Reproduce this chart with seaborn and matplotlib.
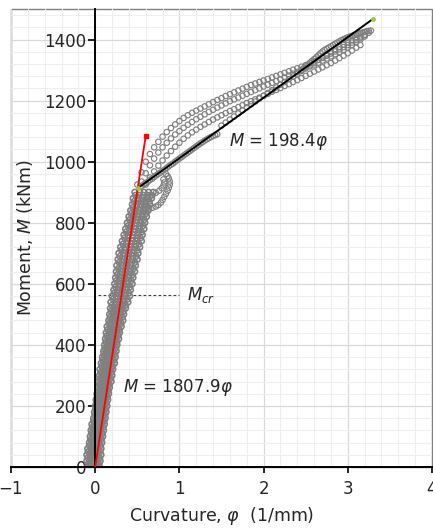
import matplotlib
matplotlib.use("Agg")
import matplotlib.pyplot as plt
import numpy as np
import pandas as pd
import seaborn as sns
from matplotlib.ticker import MultipleLocator
from matplotlib.patches import Rectangle

sns.set_theme(style="white")
plt.rcParams["font.family"] = ["DejaVu Sans"]
plt.rcParams["mathtext.fontset"] = "dejavusans"

# ---------------------------------------------------------------------------
# Measured moment-curvature response (moment in kNm)
# Pre-yield band: several loading/unloading passes read at fixed moment levels
# ---------------------------------------------------------------------------
m_lo_a = [0, 20, 40, 60, 80, 100, 120, 140, 160, 180, 200, 220, 240, 260, 280,
          300, 320, 340, 360, 380, 400, 420, 440, 460, 480, 500, 520, 540, 560,
          580, 600, 620, 640, 660, 680, 700, 720, 740, 760, 780, 800, 820, 840,
          860, 880, 900]
m_lo_b = [10, 30, 50, 70, 90, 110, 130, 150, 170, 190, 210, 230, 250, 270, 290,
          310, 330, 350, 370, 390, 410, 430, 450, 470, 490, 510, 530, 550, 570,
          590, 610, 630, 650, 670, 690, 710, 730, 750, 770, 790, 810, 830, 850,
          870, 890]

phi_lo_1 = [-0.09, -0.10, -0.10, -0.09, -0.07, -0.06, -0.05, -0.04, -0.02, -0.01,
            0.00, 0.01, 0.02, 0.03, 0.04, 0.05, 0.055, 0.07, 0.085, 0.10, 0.11,
            0.12, 0.13, 0.14, 0.16, 0.17, 0.18, 0.185, 0.20, 0.22, 0.23, 0.24,
            0.25, 0.255, 0.27, 0.28, 0.30, 0.32, 0.34, 0.36, 0.38, 0.40, 0.42,
            0.44, 0.45, 0.47]
phi_lo_2 = [-0.06, -0.06, -0.05, -0.04, -0.03, -0.02, -0.01, 0.01, 0.02, 0.03,
            0.04, 0.05, 0.06, 0.07, 0.08, 0.09, 0.10, 0.115, 0.13, 0.14, 0.155,
            0.165, 0.18, 0.19, 0.21, 0.22, 0.235, 0.25, 0.26, 0.28, 0.29, 0.30,
            0.31, 0.32, 0.335, 0.35, 0.37, 0.39, 0.41, 0.425, 0.445, 0.465,
            0.485, 0.50, 0.52]
phi_lo_3 = [-0.02, -0.02, -0.02, -0.01, 0.00, 0.02, 0.03, 0.04, 0.05, 0.06,
            0.07, 0.08, 0.09, 0.10, 0.115, 0.125, 0.135, 0.15, 0.16, 0.175,
            0.185, 0.20, 0.21, 0.225, 0.245, 0.255, 0.27, 0.29, 0.305, 0.32,
            0.335, 0.345, 0.36, 0.37, 0.385, 0.395, 0.415, 0.435, 0.45, 0.47,
            0.485, 0.505, 0.525, 0.545, 0.56, 0.58]
phi_lo_4 = [0.02, 0.025, 0.03, 0.035, 0.045, 0.055, 0.065, 0.08, 0.09, 0.10,
            0.11, 0.12, 0.13, 0.145, 0.155, 0.165, 0.18, 0.195, 0.205, 0.215,
            0.23, 0.245, 0.26, 0.275, 0.29, 0.305, 0.325, 0.345, 0.36, 0.375,
            0.39, 0.405, 0.42, 0.43, 0.445, 0.46, 0.48, 0.50, 0.515, 0.53,
            0.545, 0.565, 0.585, 0.605, 0.625]
phi_lo_5 = [0.05, 0.06, 0.07, 0.07, 0.08, 0.09, 0.10, 0.11, 0.12, 0.13, 0.14,
            0.15, 0.16, 0.17, 0.19, 0.20, 0.21, 0.23, 0.24, 0.25, 0.26, 0.28,
            0.29, 0.31, 0.33, 0.34, 0.36, 0.39, 0.41, 0.42, 0.44, 0.45, 0.47,
            0.48, 0.50, 0.51, 0.53, 0.55, 0.56, 0.58, 0.59, 0.61, 0.63, 0.65,
            0.67, 0.69]
phi_lo_6 = [-0.055, -0.06, -0.057, -0.05, -0.032, -0.022, -0.012, -0.002, 0.015,
            0.025, 0.035, 0.045, 0.055, 0.065, 0.078, 0.088, 0.098, 0.11, 0.12,
            0.138, 0.148, 0.16, 0.17, 0.183, 0.203, 0.213, 0.226, 0.242, 0.254,
            0.272, 0.284, 0.294, 0.307, 0.317, 0.33, 0.34, 0.36, 0.38, 0.397,
            0.417, 0.434, 0.454, 0.474, 0.494, 0.507, 0.527]
phi_lo_7 = [0.015, 0.02, 0.027, 0.03, 0.042, 0.052, 0.062, 0.072, 0.085, 0.095,
            0.105, 0.115, 0.125, 0.135, 0.152, 0.162, 0.172, 0.19, 0.2, 0.212,
            0.222, 0.24, 0.25, 0.267, 0.287, 0.297, 0.314, 0.338, 0.356, 0.368,
            0.386, 0.396, 0.413, 0.423, 0.44, 0.45, 0.47, 0.49, 0.503, 0.523,
            0.536, 0.556, 0.576, 0.596, 0.613, 0.633]
phi_lo_8 = [-0.085, -0.088, -0.083, -0.069, -0.055, -0.045, -0.035, -0.02,
            -0.006, 0.004, 0.014, 0.024, 0.034, 0.045, 0.055, 0.065, 0.076,
            0.087, 0.101, 0.115, 0.126, 0.137, 0.148, 0.163, 0.178, 0.189, 0.2,
            0.212, 0.227, 0.242, 0.253, 0.264, 0.274, 0.285, 0.295, 0.31, 0.33,
            0.35, 0.369, 0.389, 0.408, 0.428, 0.448, 0.464, 0.479]
phi_lo_9 = [0.045, 0.053, 0.058, 0.064, 0.075, 0.085, 0.095, 0.106, 0.116,
            0.126, 0.136, 0.146, 0.156, 0.17, 0.185, 0.195, 0.209, 0.223, 0.234,
            0.245, 0.259, 0.273, 0.288, 0.307, 0.322, 0.337, 0.36, 0.383, 0.398,
            0.413, 0.427, 0.442, 0.456, 0.47, 0.485, 0.5, 0.52, 0.536, 0.551,
            0.567, 0.582, 0.602, 0.622, 0.642, 0.661]
phi_lo_10 = [-0.02, -0.02, -0.015, -0.005, 0.01, 0.025, 0.035, 0.045, 0.055,
             0.065, 0.075, 0.085, 0.095, 0.108, 0.12, 0.13, 0.143, 0.155, 0.168,
             0.18, 0.193, 0.205, 0.218, 0.235, 0.25, 0.263, 0.28, 0.298, 0.313,
             0.328, 0.34, 0.353, 0.365, 0.378, 0.39, 0.405, 0.425, 0.443, 0.46,
             0.478, 0.495, 0.515, 0.535, 0.553, 0.57]

# Post-yield branches
phi_up_a = [0.50, 0.55, 0.60, 0.65, 0.70, 0.75, 0.80, 0.85, 0.90, 0.95, 1.00,
            1.05, 1.10, 1.15, 1.20, 1.25, 1.30, 1.35, 1.40, 1.45, 1.50, 1.55,
            1.60, 1.65, 1.70, 1.75, 1.80, 1.85, 1.90, 1.95, 2.00, 2.05, 2.10,
            2.15, 2.20, 2.25, 2.30, 2.35, 2.40, 2.45, 2.50, 2.55, 2.60, 2.65,
            2.70, 2.75, 2.80, 2.85, 2.90, 2.95, 3.00, 3.05, 3.10, 3.15, 3.20,
            3.25]
m_up_a = [925, 965, 1000, 1025, 1047, 1065, 1082, 1097, 1110, 1122, 1133, 1143,
          1152, 1160, 1167, 1174, 1181, 1188, 1195, 1202, 1208, 1215, 1221, 1227,
          1233, 1239, 1245, 1251, 1256, 1261, 1266, 1271, 1276, 1281, 1286, 1291,
          1296, 1301, 1306, 1311, 1316, 1322, 1328, 1334, 1340, 1347, 1354, 1361,
          1368, 1375, 1382, 1390, 1398, 1406, 1414, 1422]

phi_up_b = [0.55, 0.60, 0.65, 0.70, 0.75, 0.80, 0.85, 0.90, 0.95, 1.00, 1.05,
            1.10, 1.15, 1.20, 1.25, 1.30, 1.35, 1.40, 1.45, 1.50, 1.55, 1.60,
            1.65, 1.70, 1.75, 1.80, 1.85, 1.90, 1.95, 2.00, 2.05, 2.10, 2.15,
            2.20, 2.25, 2.30, 2.35, 2.40, 2.45, 2.50, 2.55, 2.60, 2.65, 2.70,
            2.75, 2.80, 2.85, 2.90, 2.95, 3.00, 3.05, 3.10, 3.15, 3.20]
m_up_b = [935, 962, 988, 1010, 1030, 1047, 1062, 1076, 1089, 1100, 1111, 1121,
          1130, 1139, 1147, 1155, 1163, 1170, 1177, 1184, 1191, 1198, 1204, 1210,
          1216, 1222, 1228, 1234, 1240, 1246, 1252, 1258, 1264, 1270, 1276, 1282,
          1288, 1294, 1300, 1306, 1312, 1318, 1324, 1331, 1338, 1345, 1352, 1359,
          1366, 1374, 1382, 1391, 1400, 1410]

phi_up_c = [0.60, 0.65, 0.70, 0.75, 0.80, 0.85, 0.90, 0.95, 1.00, 1.05, 1.10,
            1.15, 1.20, 1.25, 1.30, 1.35, 1.40, 1.45, 1.50, 1.55, 1.60, 1.65,
            1.70, 1.75, 1.80, 1.85, 1.90, 1.95, 2.00, 2.05, 2.10, 2.15, 2.20,
            2.25, 2.30, 2.35, 2.40, 2.45, 2.50, 2.55, 2.60, 2.65, 2.70, 2.75,
            2.80, 2.85, 2.90, 2.95, 3.00, 3.05, 3.10, 3.15]
m_up_c = [925, 948, 968, 987, 1004, 1020, 1035, 1049, 1062, 1075, 1086, 1096,
          1105, 1114, 1122, 1130, 1138, 1145, 1152, 1159, 1166, 1172, 1179, 1185,
          1192, 1198, 1204, 1210, 1216, 1222, 1229, 1235, 1241, 1248, 1254, 1261,
          1267, 1274, 1281, 1288, 1295, 1302, 1309, 1316, 1323, 1331, 1339, 1347,
          1355, 1364, 1373, 1382]

phi_up_d = [0.55, 0.575, 0.60, 0.625, 0.65, 0.675, 0.70, 0.725, 0.75, 0.775,
            0.80, 0.825, 0.85, 0.875, 0.90, 0.925, 0.95, 0.975, 1.00, 1.025,
            1.05, 1.075, 1.10, 1.125, 1.15, 1.175, 1.20, 1.225, 1.25, 1.275,
            1.30, 1.325, 1.35, 1.375, 1.40, 1.425, 1.45]
m_up_d = [920, 925, 930, 934, 940, 944, 950, 955, 960, 964, 970, 974, 980, 985,
          990, 994, 1000, 1005, 1010, 1015, 1020, 1025, 1030, 1035, 1040, 1045,
          1050, 1055, 1060, 1064, 1069, 1073, 1077, 1081, 1084, 1087, 1090]

phi_up_e = [1.50, 1.55, 1.60, 1.65, 1.70, 1.75, 1.80, 1.85, 1.90, 1.95, 2.00,
            2.05, 2.10, 2.15, 2.20, 2.25, 2.30, 2.35, 2.40, 2.45, 2.50, 2.55,
            2.60, 2.65, 2.70, 2.75, 2.80, 2.85, 2.90, 2.95, 3.00, 3.05, 3.10,
            3.15, 3.20]
m_up_e = [1118, 1128, 1138, 1148, 1158, 1168, 1178, 1188, 1197, 1207, 1216,
          1225, 1234, 1243, 1252, 1261, 1270, 1279, 1288, 1297, 1306, 1315, 1324,
          1333, 1342, 1351, 1359, 1367, 1375, 1383, 1390, 1397, 1404, 1410, 1416]

phi_up_f = [2.45, 2.475, 2.50, 2.525, 2.55, 2.575, 2.60, 2.625, 2.65, 2.675,
            2.70, 2.725, 2.75, 2.775, 2.80, 2.825, 2.85, 2.875, 2.90, 2.925,
            2.95, 2.975, 3.00, 3.025, 3.05, 3.075, 3.10, 3.125, 3.15, 3.175,
            3.20, 3.225, 3.25, 3.275]
m_up_f = [1300, 1306, 1312, 1318, 1324, 1330, 1336, 1342, 1348, 1355, 1361,
          1366, 1370, 1374, 1378, 1382, 1386, 1390, 1394, 1398, 1401, 1404, 1407,
          1410, 1412, 1415, 1417, 1419, 1421, 1423, 1425, 1427, 1428, 1429]

# Local excursion just after cracking spread
phi_loop_1 = [0.60, 0.64, 0.68, 0.72, 0.75, 0.78, 0.80, 0.82, 0.84, 0.86, 0.875,
              0.885, 0.885, 0.875, 0.86, 0.84]
m_loop_1 = [845, 846, 849, 853, 858, 866, 875, 885, 895, 905, 915, 925, 935,
            945, 953, 960]
phi_loop_2 = [0.58, 0.63, 0.68, 0.72, 0.76, 0.79, 0.81, 0.82, 0.81]
m_loop_2 = [870, 880, 890, 898, 905, 913, 922, 932, 942]

# Fitted stiffnesses
k_initial = 1807.9          # elastic branch slope
k_post = 198.4              # post-yield branch slope
phi_initial_end = 0.6
phi_post = [0.505, 3.30]
m_post_start = 913
m_cr = 563

# ---------------------------------------------------------------------------
lower = [(phi_lo_1, m_lo_a), (phi_lo_2, m_lo_b), (phi_lo_3, m_lo_a),
         (phi_lo_4, m_lo_b), (phi_lo_5, m_lo_a), (phi_lo_6, m_lo_a),
         (phi_lo_7, m_lo_a), (phi_lo_8, m_lo_b), (phi_lo_9, m_lo_b),
         (phi_lo_10, m_lo_b)]
upper = [(phi_up_a, m_up_a), (phi_up_b, m_up_b), (phi_up_c, m_up_c),
         (phi_up_d, m_up_d), (phi_up_e, m_up_e), (phi_up_f, m_up_f),
         (phi_loop_1, m_loop_1), (phi_loop_2, m_loop_2)]
test_lower = pd.concat([pd.DataFrame({"phi": p, "M": m}) for p, m in lower],
                       ignore_index=True)
test_upper = pd.concat([pd.DataFrame({"phi": p, "M": m}) for p, m in upper],
                       ignore_index=True)

fig = plt.figure(figsize=(4.33, 5.30), dpi=100)
ax = fig.add_axes([11 / 433, 1 - 467 / 530, 421 / 433, 458 / 530])

ax.set_xlim(-1, 4)
ax.set_ylim(0, 1500)
ax.xaxis.set_major_locator(MultipleLocator(1))
ax.xaxis.set_minor_locator(MultipleLocator(0.2))
ax.yaxis.set_major_locator(MultipleLocator(200))
ax.yaxis.set_minor_locator(MultipleLocator(40))
ax.grid(which="minor", color="#efefef", lw=0.8)
ax.grid(which="major", color="#d9d9d9", lw=0.9)
ax.set_axisbelow(True)

# cracking moment reference
ax.plot([0.03, 1.0], [m_cr, m_cr], ls=(0, (2.5, 2)), color="#404040", lw=0.8,
        zorder=1.5)

sns.scatterplot(data=test_lower, x="phi", y="M", marker="o", s=16,
                facecolors="none", edgecolor="#808080", linewidth=1.15,
                ax=ax, legend=False, zorder=2)
sns.scatterplot(data=test_upper, x="phi", y="M", marker="o", s=15,
                facecolors="none", edgecolor="#808080", linewidth=0.85,
                ax=ax, legend=False, zorder=2)

# elastic fit
phi_el = np.array([0.0, phi_initial_end])
sns.lineplot(x=phi_el, y=k_initial * phi_el, color="#ff0000", lw=1.3,
             ax=ax, zorder=4, sort=False)
ax.plot([phi_initial_end], [k_initial * phi_initial_end], marker="s", ms=2.2,
        color="#ff0000", zorder=4)

# post-yield fit
phi_pl = np.array(phi_post)
m_pl = m_post_start + k_post * (phi_pl - phi_pl[0])
sns.lineplot(x=phi_pl, y=m_pl, color="black", lw=1.4, ax=ax, zorder=5,
             sort=False)
ax.plot(phi_pl, m_pl, ls="none", marker="o", ms=2.5, color="#9acd32", zorder=6)

# axes through origin
for side in ["top", "right"]:
    ax.spines[side].set_visible(False)
ax.spines["left"].set_position(("data", 0))
ax.spines["bottom"].set_position(("data", 0))
for side in ["left", "bottom"]:
    ax.spines[side].set_color("black")
    ax.spines[side].set_linewidth(1.4)
    ax.spines[side].set_zorder(3)
ax.add_patch(Rectangle((0, 0), 1, 1, transform=ax.transAxes, fill=False,
                       edgecolor="#7f7f7f", lw=1.0, clip_on=False, zorder=0.5))

ax.tick_params(axis="y", which="major", direction="out", length=5, width=1.2,
               color="black", labelsize=12, pad=1.5, left=True)
ax.tick_params(axis="x", which="major", direction="out", length=4, width=1.2,
               color="black", labelsize=12, pad=5, bottom=True)
ax.tick_params(which="minor", length=0)

ax.set_xlabel(r"Curvature, $\varphi$  (1/mm)", fontsize=12.5)
ax.set_ylabel(r"Moment, $M$ (kNm)", fontsize=12.5)
ax.xaxis.set_label_coords(0.5, -0.082)
ax.yaxis.set_label_coords(0.058, 0.5)

ax.text(1.59, 1066, r"$M$ = 198.4$\varphi$", fontsize=12, ha="left",
        va="center", zorder=7)
ax.text(0.33, 262, r"$M$ = 1807.9$\varphi$", fontsize=12, ha="left",
        va="center", zorder=7)
ax.text(1.09, 563, r"$M_{cr}$", fontsize=12, ha="left", va="center", zorder=7)

fig.savefig("out.png", dpi=100)
